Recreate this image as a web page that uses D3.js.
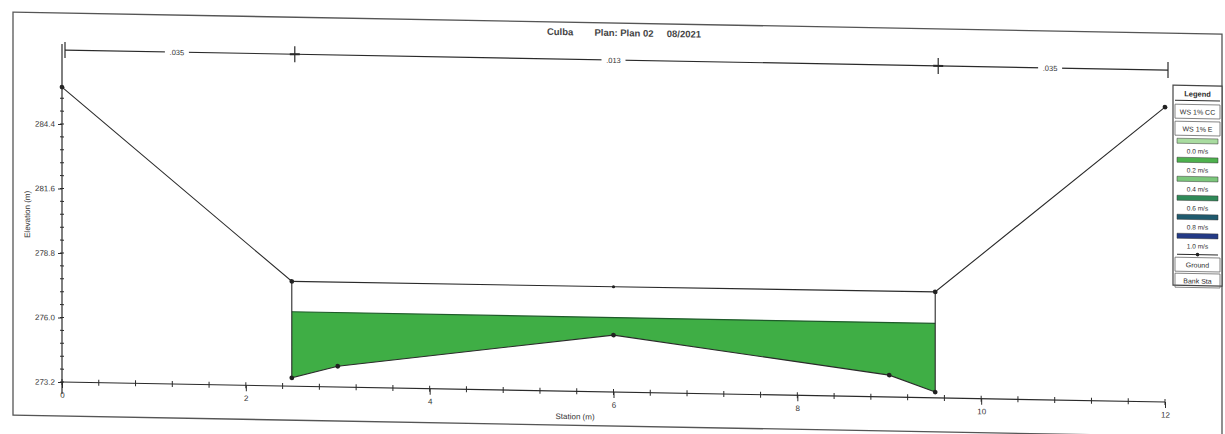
<!DOCTYPE html>
<html><head><meta charset="utf-8">
<script src="https://cdn.jsdelivr.net/npm/d3@7"></script>
<style>
html,body{margin:0;padding:0;background:#fff;}
svg{display:block;font-family:"Liberation Sans",Arial,sans-serif;}
</style></head>
<body>
<svg id="chart" width="1225" height="434"></svg>
<script>
// ---- data ----
const titleText = "Culba        Plan: Plan 02     08/2021";
const groundSta  = [0, 2.5, 2.5, 3.0, 6.0, 9.0, 9.5, 9.5, 12];
const groundElev = [286.0, 277.75, 273.56, 274.1, 275.67, 274.15, 273.45, 277.8, 286.0];
const deckSta  = [2.5, 6.0, 9.5];
const deckElev = [277.75, 277.77, 277.8];
const wsElev = 276.43;
const bankSta = [2.5, 9.5];
const nSta = [0, 2.5, 9.5, 12];
const nValues = [".035", ".013", ".035"];
const yTicks = [273.2, 276.0, 278.8, 281.6, 284.4];
const xTicks = [0, 2, 4, 6, 8, 10, 12];
const legendLines = ["WS 1% CC", "WS 1% E"];
const legendVel = ["0.0 m/s", "0.2 m/s", "0.4 m/s", "0.6 m/s", "0.8 m/s", "1.0 m/s"];
const legendVelColors = ["#a9dca0", "#4db14d", "#7cc77c", "#2f8a58", "#1f5a6e", "#233a86"];
const legendBottom = ["Ground", "Bank Sta"];

// ---- drawing ----
const svg = d3.select("#chart");
svg.append("rect").attr("width",1225).attr("height",434).attr("fill","#fff");
const skewT = Math.tan(1.039*Math.PI/180);
const g = svg.append("g").attr("transform", `translate(0,${-62*skewT}) skewY(1.039)`);
const ink = "#2a2a2a";

const x = d3.scaleLinear().domain([0,12]).range([62,1165]);
const y = d3.scaleLinear().domain([273.2,284.4]).range([382,124]);

// frame
g.append("rect").attr("x",13).attr("y",13).attr("width",1209).attr("height",403)
  .attr("fill","none").attr("stroke","#555").attr("stroke-width",1.3);

// title
g.append("text").attr("x",624).attr("y",26).attr("text-anchor","middle")
  .attr("font-size",9.5).attr("font-weight","bold").attr("fill","#444").attr("xml:space","preserve").text(titleText);

// green water fill (bed to WS)
const bed = groundSta.map((s,i)=>({s,e:groundElev[i]})).slice(2,7);
const area = d3.area().x(d=>x(d.s)).y0(d=>y(d.e)).y1(()=>y(wsElev));
g.append("path").datum(bed).attr("d",area).attr("fill","#3fae45").attr("stroke","none");
g.append("line").attr("x1",x(bankSta[0])).attr("x2",x(bankSta[1]))
  .attr("y1",y(wsElev)).attr("y2",y(wsElev)).attr("stroke","#1f5a2a").attr("stroke-width",1.2);

// deck line
const line = d3.line().x(d=>x(d.s)).y(d=>y(d.e));
const deck = deckSta.map((s,i)=>({s,e:deckElev[i]}));
g.append("path").datum(deck).attr("d",line).attr("fill","none").attr("stroke",ink).attr("stroke-width",1.1);

// ground line
const ground = groundSta.map((s,i)=>({s,e:groundElev[i]}));
g.append("path").datum(ground).attr("d",line).attr("fill","none").attr("stroke",ink).attr("stroke-width",1.1);
g.selectAll("circle.gp").data(ground).join("circle").attr("class","gp")
  .attr("cx",d=>x(d.s)).attr("cy",d=>y(d.e)).attr("r",2.4).attr("fill","#222");
g.selectAll("circle.dp").data(deck.slice(1,2)).join("circle").attr("class","dp")
  .attr("cx",d=>x(d.s)).attr("cy",d=>y(d.e)).attr("r",1.6).attr("fill","#222");

// y axis
const yAxis = d3.axisLeft(y).tickValues(yTicks).tickFormat(d3.format(".1f")).tickSize(4).tickPadding(3);
const ya = g.append("g").attr("transform",`translate(${x(0)},0)`).call(yAxis);
ya.select(".domain").remove();
g.append("line").attr("x1",x(0)).attr("x2",x(0)).attr("y1",44).attr("y2",394).attr("stroke",ink).attr("stroke-width",1.2);
const yMinor = d3.range(273.2, 286.0, 0.56);
g.selectAll("line.ym").data(yMinor).join("line").attr("class","ym")
  .attr("x1",x(0)-2).attr("x2",x(0)+2).attr("y1",d=>y(d)).attr("y2",d=>y(d)).attr("stroke",ink);
ya.selectAll("text").attr("font-size",8).attr("fill","#333").attr("font-family","Liberation Sans, Arial, sans-serif");
ya.selectAll("line").attr("stroke",ink);

// x axis
const xAxis = d3.axisBottom(x).tickValues(xTicks).tickFormat(d3.format("d")).tickSize(6).tickPadding(4);
const xa = g.append("g").attr("transform",`translate(0,${y(273.2)})`).call(xAxis);
xa.select(".domain").remove();
g.append("line").attr("x1",x(0)).attr("x2",x(12)).attr("y1",y(273.2)).attr("y2",y(273.2)).attr("stroke",ink).attr("stroke-width",1.2);
const xMinor = d3.range(0, 12.01, 0.4);
g.selectAll("line.xm").data(xMinor).join("line").attr("class","xm")
  .attr("x1",d=>x(d)).attr("x2",d=>x(d)).attr("y1",y(273.2)-3).attr("y2",y(273.2)+3).attr("stroke",ink);
xa.selectAll("text").attr("font-size",8).attr("fill","#333").attr("font-family","Liberation Sans, Arial, sans-serif");
xa.selectAll("line").attr("stroke",ink);

// axis titles
g.append("text").attr("x",575).attr("y",410).attr("text-anchor","middle").attr("font-size",8).attr("fill","#333").text("Station (m)");
g.append("text").attr("transform","translate(30,215) rotate(-90)").attr("text-anchor","middle").attr("font-size",8).attr("fill","#333").text("Elevation (m)");

// Manning's n bar
const nY = 50;
g.append("line").attr("x1",x(nSta[0])+3).attr("x2",x(nSta[3])+3).attr("y1",nY).attr("y2",nY).attr("stroke",ink).attr("stroke-width",1.2);
g.selectAll("line.nt").data(nSta).join("line").attr("class","nt")
  .attr("x1",d=>x(d)+3).attr("x2",d=>x(d)+3).attr("y1",nY-8).attr("y2",nY+8).attr("stroke",ink).attr("stroke-width",1.2);
g.selectAll("line.nt2").data(nSta.slice(1,3)).join("line").attr("class","nt2")
  .attr("x1",d=>x(d)-2).attr("x2",d=>x(d)+8).attr("y1",nY).attr("y2",nY).attr("stroke",ink).attr("stroke-width",2);
nValues.forEach((v,i)=>{
  const cx = x((nSta[i]+nSta[i+1])/2);
  g.append("rect").attr("x",cx-12).attr("y",nY-4).attr("width",24).attr("height",8).attr("fill","#fff");
  g.append("text").attr("x",cx).attr("y",nY+3).attr("text-anchor","middle").attr("font-size",7.5).attr("fill","#333").text(v);
});

// legend
const lg = g.append("g").attr("transform","translate(1173,65)");
const lw = 49;
lg.append("rect").attr("width",lw).attr("height",200).attr("fill","#fff").attr("stroke","#444").attr("stroke-width",1.2);
lg.append("text").attr("x",lw/2).attr("y",11).attr("text-anchor","middle").attr("font-size",7.5).attr("font-weight","bold").attr("fill",ink).text("Legend");
lg.append("line").attr("x1",2).attr("x2",lw-2).attr("y1",15).attr("y2",15).attr("stroke",ink);
let ly = 19;
legendLines.forEach(t=>{
  lg.append("rect").attr("x",2).attr("y",ly).attr("width",lw-4).attr("height",14).attr("fill","none").attr("stroke","#666").attr("stroke-width",0.8);
  lg.append("text").attr("x",lw/2).attr("y",ly+10).attr("text-anchor","middle").attr("font-size",7).attr("fill",ink).text(t);
  ly += 17;
});
legendVel.forEach((t,i)=>{
  lg.append("rect").attr("x",4).attr("y",ly).attr("width",lw-8).attr("height",5).attr("fill",legendVelColors[i]).attr("stroke","#333").attr("stroke-width",0.5);
  ly += 6;
  lg.append("text").attr("x",lw/2).attr("y",ly+9).attr("text-anchor","middle").attr("font-size",6.5).attr("fill",ink).text(t);
  ly += 13;
});
lg.append("line").attr("x1",4).attr("x2",lw-4).attr("y1",ly+2).attr("y2",ly+2).attr("stroke",ink);
lg.append("circle").attr("cx",lw/2).attr("cy",ly+2).attr("r",1.8).attr("fill","#222");
ly += 5;
legendBottom.forEach(t=>{
  lg.append("rect").attr("x",2).attr("y",ly).attr("width",lw-4).attr("height",14).attr("fill","none").attr("stroke","#666").attr("stroke-width",0.8);
  lg.append("text").attr("x",lw/2).attr("y",ly+10).attr("text-anchor","middle").attr("font-size",7).attr("fill",ink).text(t);
  ly += 16;
});
</script>
</body></html>
